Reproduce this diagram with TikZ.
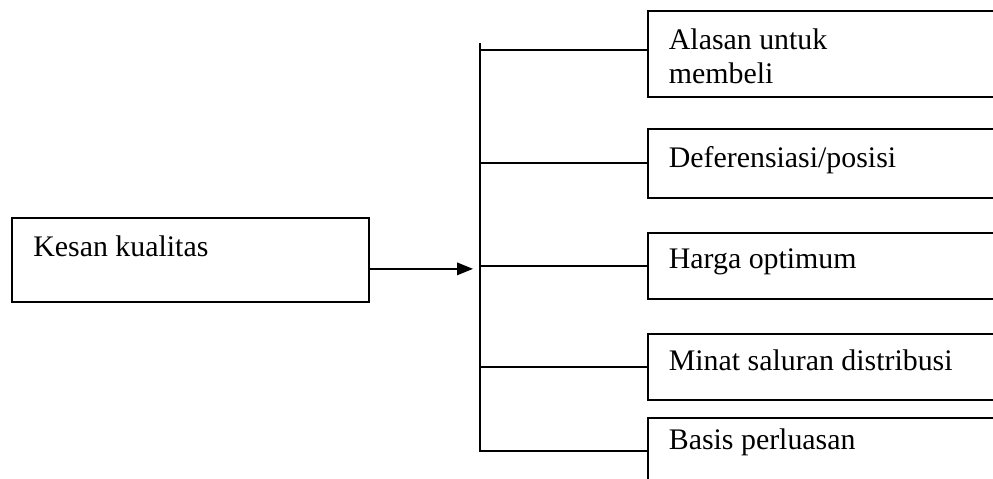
\documentclass[tikz,border=0pt]{standalone}
\usepackage{fontspec}
\setmainfont{Liberation Serif}
\usetikzlibrary{arrows.meta}

\begin{document}
\begin{tikzpicture}[x=0.02cm, y=-0.02cm, line width=1pt,
           font=\fontsize{17}{19.4}\selectfont,
           quality/.style n args={2}{draw, anchor=north west, inner sep=0pt,
              minimum width=7.14cm, minimum height=#1,
              label={[anchor=north west, inner sep=0pt, xshift=0.43cm, yshift=-0.36cm]north west:#2}},
           factor/.style n args={3}{draw, anchor=north west, inner sep=0pt,
              minimum width=8cm, minimum height=#1,
              label={[anchor=north west, align=left, inner sep=0pt, xshift=0.42cm, yshift=-#2]north west:{#3}}},
           connections/.style={-{Triangle[length=0.32cm, width=0.25cm]}, draw=black, shorten >=0.14cm},
           branch/.style={draw=black},
        ]
        \path[use as bounding box, clip] (0,0) rectangle (993,479);

        \node at (11,217) (kesan) [quality={1.68cm}{Kesan kualitas}] {};

        \node at (647,10) (alasan) [factor={1.72cm}{0.36cm}{Alasan untuk\\membeli}] {};
        \node at (647,128) (deferensiasi) [factor={1.38cm}{0.36cm}{Deferensiasi/posisi}] {};
        \node at (647,232) (harga) [factor={1.32cm}{0.32cm}{Harga optimum}] {};
        \node at (647,333) (minat) [factor={1.32cm}{0.32cm}{Minat saluran distribusi}] {};
        \node at (647,417) (basis) [factor={1.32cm}{0.22cm}{Basis perluasan}] {};

        \coordinate (spine) at (480,43);
        \coordinate (feed) at ([yshift=-0.18cm]kesan.east);
        \coordinate (alasan in) at ([yshift=0.08cm]alasan.west);

        \draw[connections] (feed) -- (feed -| spine);
        \draw[branch] (spine) -- (spine |- basis.west) -- (basis.west);
        \draw[branch] (spine |- alasan in) -- (alasan in);
        \foreach \n in {deferensiasi, harga, minat}
            \draw[branch] (spine |- \n.west) -- (\n.west);
     \end{tikzpicture}
\end{document}
